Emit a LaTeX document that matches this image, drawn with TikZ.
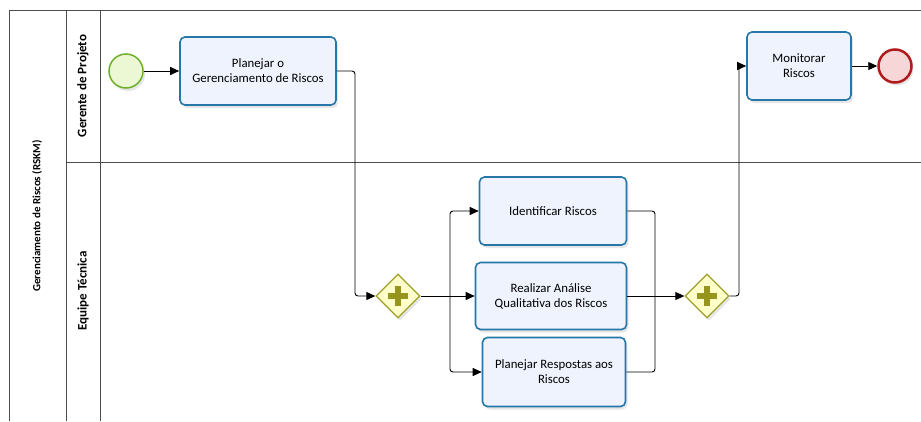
\documentclass[tikz,border=0pt]{standalone}
\usepackage{fontspec}
\setmainfont{Carlito}
\usetikzlibrary{positioning,shapes.geometric,arrows.meta,shadows}
\definecolor{taskline}{RGB}{38,118,168}
\definecolor{taskfill}{RGB}{238,243,253}
\definecolor{gateline}{RGB}{160,160,40}
\definecolor{gatefill}{RGB}{255,255,204}
\definecolor{gateplus}{RGB}{150,150,30}
\definecolor{startline}{RGB}{110,176,40}
\definecolor{startfill}{RGB}{236,247,212}
\definecolor{endline}{RGB}{176,28,28}
\definecolor{endfill}{RGB}{246,214,214}

\begin{document}
\begin{tikzpicture}[
    x=1pt, y=-1pt,
    task/.style={rectangle, draw=taskline, fill=taskfill, line width=1.6pt, rounded corners=5pt,
        align=center, font=\fontsize{12.8}{15}\selectfont, inner sep=2pt,
        drop shadow={opacity=0.2, shadow xshift=2pt, shadow yshift=-3pt}},
    gateway/.style={diamond, draw=gateline, fill=gatefill, line width=1.3pt,
        minimum width=44pt, minimum height=44pt, inner sep=0pt,
        drop shadow={opacity=0.2, shadow xshift=2pt, shadow yshift=-3pt}},
    startev/.style={circle, draw=startline, fill=startfill, line width=1.5pt, minimum size=34pt,
        drop shadow={opacity=0.2, shadow xshift=2pt, shadow yshift=-3pt}},
    endev/.style={circle, draw=endline, fill=endfill, line width=2.5pt, minimum size=33pt,
        drop shadow={opacity=0.2, shadow xshift=2pt, shadow yshift=-3pt}},
    flow/.style={-{Triangle[length=9pt,width=8pt]}, line width=0.9pt, rounded corners=3pt},
    link/.style={line width=0.9pt, rounded corners=3pt},
    plus/.style={gateplus, line width=5.5pt},
    lane/.style={draw=black!70, line width=0.8pt},
    lanelabel/.style={rotate=90, font=\bfseries\fontsize{13}{15}\selectfont}
]
    \useasboundingbox (0,0) rectangle (921,421);

    \draw[lane] (9,421) -- (9,10) -- (921,10);
    \draw[lane] (66,10) -- (66,421);
    \draw[lane] (100,10) -- (100,421);
    \draw[lane] (66,162) -- (921,162);

    \node[lanelabel, font=\bfseries\fontsize{11}{13}\selectfont] (pool) at (37,216) {Gerenciamento de Riscos (RSKM)};
    \node[lanelabel] (gerente) at (83,86) {Gerente de Projeto};
    \node[lanelabel] (equipe) at (83,291) {Equipe Técnica};

    \node[startev] (start) at (126,71) {};
    \node[task, minimum width=156pt, minimum height=68pt] (planejar) at (258,71) {Planejar o\\Gerenciamento de Riscos};
    \node[gateway] (fork) at (398,296) {};
    \node[task, minimum width=147pt, minimum height=68pt] (identificar) at (553,211) {Identificar Riscos};
    \node[task, minimum width=151pt, minimum height=67pt] (analise) at (551,296) {Realizar Análise\\Qualitativa dos Riscos};
    \node[task, minimum width=143pt, minimum height=69pt] (respostas) at (554,372) {Planejar Respostas aos\\Riscos};
    \node[gateway] (merge) at (707,296) {};
    \node[task, minimum width=104pt, minimum height=68pt] (monitorar) at (799,66) {Monitorar\\Riscos};
    \node[endev] (fim) at (895,66) {};

    \foreach \g in {fork,merge} {
        \draw[plus] ([xshift=-10pt]\g.center) -- ([xshift=10pt]\g.center);
        \draw[plus] ([yshift=-10pt]\g.center) -- ([yshift=10pt]\g.center);
    }

    \coordinate (forkin) at (355,296);
    \coordinate (forkout) at (450,296);
    \coordinate (mergein) at (655,296);
    \coordinate (mergeout) at (739,296);

    \draw[flow] (start) -- (planejar);
    \draw[flow] (planejar) -| (forkin) -- (fork);
    \draw[link] (fork) -- (forkout);
    \draw[flow] (forkout) |- (identificar);
    \draw[flow] (forkout) -- (analise);
    \draw[flow] (forkout) |- (respostas);
    \draw[link] (identificar) -| (mergein);
    \draw[link] (respostas) -| (mergein);
    \draw[flow] (analise) -- (merge);
    \draw[flow] (merge) -- (mergeout) |- (monitorar);
    \draw[flow] (monitorar) -- (fim);
\end{tikzpicture}
\end{document}
